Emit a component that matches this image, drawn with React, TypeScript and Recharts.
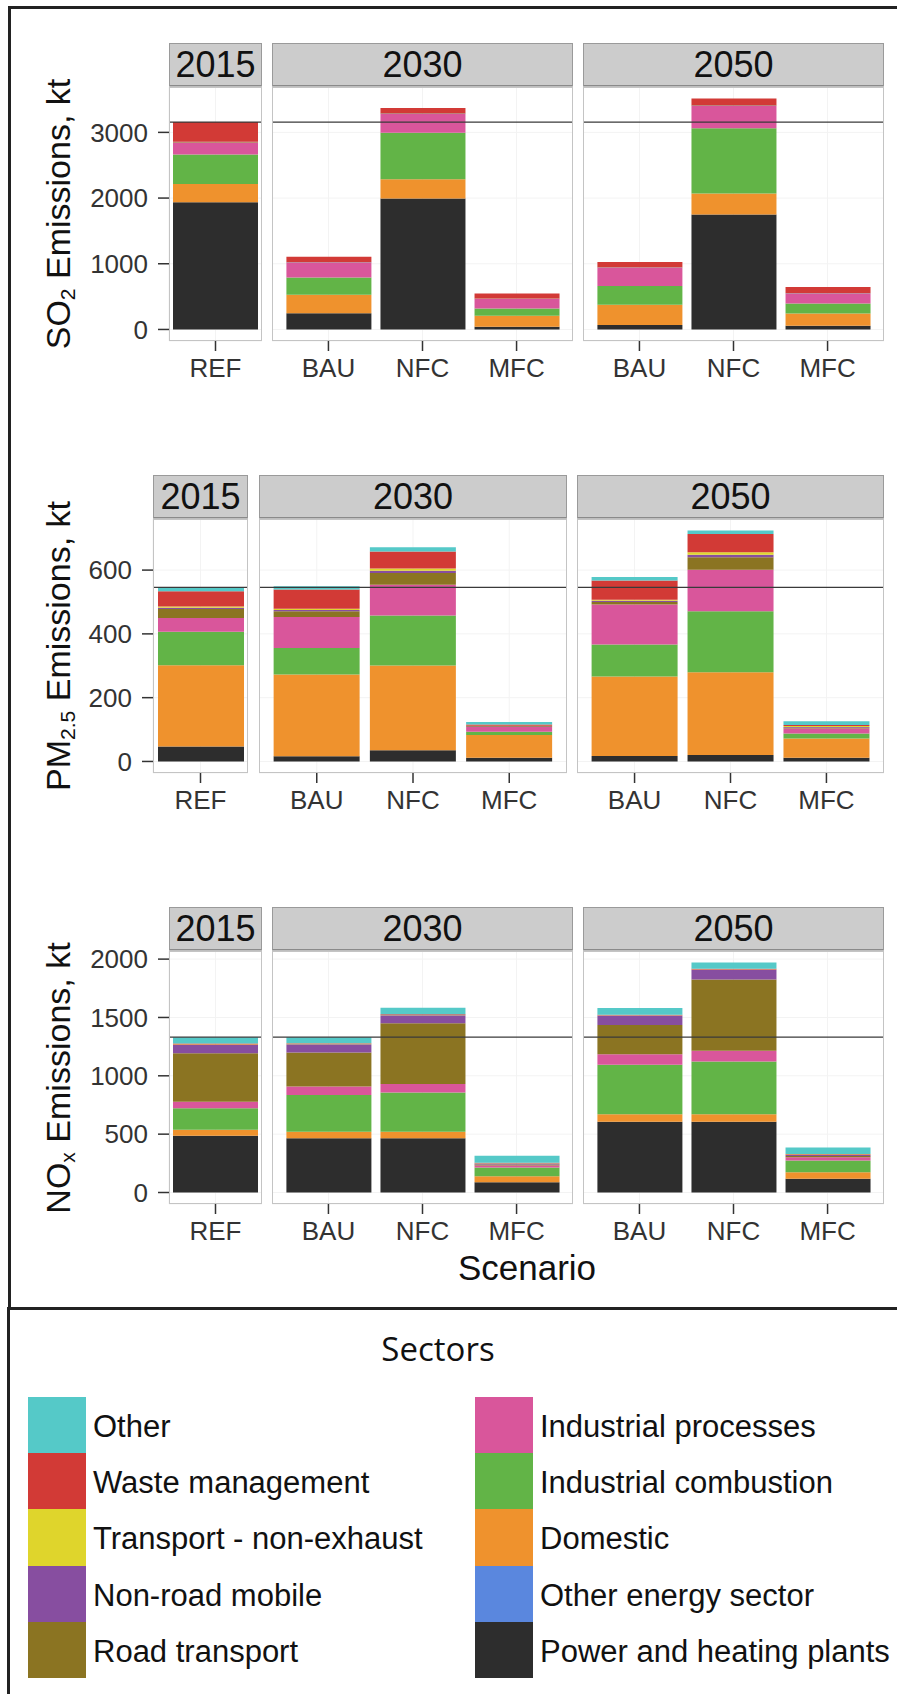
import { BarChart, Bar, XAxis, YAxis, CartesianGrid, ReferenceLine } from 'recharts'

// bar order: 2015 REF, 2030 BAU/NFC/MFC, 2050 BAU/NFC/MFC
const SCENARIOS = ['REF', 'BAU', 'NFC', 'MFC', 'BAU', 'NFC', 'MFC']
const YEARS = ['2015', '2030', '2050']
const YEAR_BARS = [[0], [1, 2, 3], [4, 5, 6]]

// stack order, bottom to top
const SECTORS = [
  'Power and heating plants',
  'Other energy sector',
  'Domestic',
  'Industrial combustion',
  'Industrial processes',
  'Road transport',
  'Non-road mobile',
  'Transport - non-exhaust',
  'Waste management',
  'Other',
]
const SECTOR_KEYS = ['power', 'otherEnergy', 'domestic', 'indComb', 'indProc', 'road', 'nonRoad', 'nonExhaust', 'waste', 'other']
const COLORS = ['#2d2d2d', '#5a87de', '#ef922d', '#62b447', '#d9569b', '#8b7422', '#874ea0', '#dfd52c', '#d23a36', '#55c9c8']

// SO2, kt
const so2Power = [1935, 245, 1995, 40, 66, 1751, 56]
const so2OtherEnergy = [0, 0, 0, 0, 0, 0, 0]
const so2Domestic = [280, 285, 290, 168, 310, 320, 188]
const so2IndComb = [450, 260, 710, 112, 284, 990, 152]
const so2IndProc = [180, 228, 285, 147, 279, 340, 152]
const so2Road = [8, 5, 8, 4, 5, 8, 4]
const so2NonRoad = [4, 3, 4, 2, 3, 4, 2]
const so2NonExhaust = [0, 0, 0, 0, 0, 0, 0]
const so2Waste = [300, 80, 80, 73, 81, 102, 94]
const so2Other = [0, 0, 0, 0, 0, 0, 0]

// PM2.5, kt
const pmPower = [47, 16, 35, 12, 17, 20, 12]
const pmOtherEnergy = [0, 0, 0, 0, 0, 0, 0]
const pmDomestic = [255, 257, 266, 71, 249, 260, 60]
const pmIndComb = [105, 83, 157, 10, 101, 191, 16]
const pmIndProc = [43, 97, 96, 15, 125, 130, 15]
const pmRoad = [28, 18, 37, 2, 8, 39, 3]
const pmNonRoad = [4, 4, 7, 1, 4, 8, 2]
const pmNonExhaust = [4, 4, 7, 1, 3, 8, 3]
const pmWaste = [48, 60, 53, 4, 60, 57, 3]
const pmOther = [12, 10, 14, 8, 11, 11, 12]

// NOx, kt
const noxPower = [487, 464, 464, 88, 607, 607, 117]
const noxOtherEnergy = [0, 0, 0, 0, 0, 0, 0]
const noxDomestic = [51, 57, 57, 52, 63, 63, 57]
const noxIndComb = [183, 314, 337, 74, 424, 453, 100]
const noxIndProc = [57, 74, 71, 17, 91, 91, 28]
const noxRoad = [416, 290, 521, 10, 251, 612, 10]
const noxNonRoad = [71, 72, 69, 8, 80, 83, 10]
const noxNonExhaust = [3, 3, 3, 2, 3, 3, 3]
const noxWaste = [8, 5, 5, 3, 5, 5, 5]
const noxOther = [55, 52, 57, 62, 57, 54, 55]

const SO2_TICKS = [0, 1000, 2000, 3000]
const PM_TICKS = [0, 200, 400, 600]
const NOX_TICKS = [0, 500, 1000, 1500, 2000]

const FONT = '"Liberation Sans", Arial, Helvetica, sans-serif'

type Row = Record<string, string | number>

function buildRows(series: number[][]): Row[] {
  return SCENARIOS.map((s, i) => {
    const row: Row = { scenario: s }
    SECTOR_KEYS.forEach((k, j) => {
      row[k] = series[j][i]
    })
    return row
  })
}

function totals(series: number[][]) {
  return SCENARIOS.map((_, i) => series.reduce((a, s) => a + s[i], 0))
}

interface PanelProps {
  data: Row[]
  left: number
  width: number
  top: number
  height: number
  domain: [number, number]
  ticks: number[]
  refTotal: number
  showY: boolean
  pad: number
  barSize: number
}

function Panel({ data, left, width, top, height, domain, ticks, refTotal, showY, pad, barSize }: PanelProps) {
  const yW = showY ? 110 : 0
  const mTop = 20
  return (
    <div style={{ position: 'absolute', left: left - yW, top: top - mTop }}>
      <BarChart
        width={width + yW}
        height={height + mTop + 50}
        data={data}
        margin={{ top: mTop, right: 0, bottom: 0, left: 0 }}
        barSize={barSize}
      >
        <CartesianGrid stroke="#f3f3f3" />
        <XAxis
          dataKey="scenario"
          height={50}
          interval={0}
          tickSize={10}
          tickMargin={8}
          axisLine={false}
          tickLine={{ stroke: '#333', strokeWidth: 1.5 }}
          tick={{ fill: '#333', fontSize: 26 }}
          padding={{ left: pad, right: pad }}
        />
        <YAxis
          hide={!showY}
          width={yW}
          domain={domain}
          ticks={ticks}
          allowDataOverflow
          tickSize={11}
          tickMargin={10}
          axisLine={false}
          tickLine={{ stroke: '#333', strokeWidth: 1.5 }}
          tick={{ fill: '#333', fontSize: 26 }}
        />
        {SECTOR_KEYS.map((k, i) => (
          <Bar key={k} dataKey={k} stackId="s" fill={COLORS[i]} isAnimationActive={false} />
        ))}
        <ReferenceLine y={refTotal} stroke="#3a3a3a" strokeWidth={1.2} />
      </BarChart>
    </div>
  )
}

interface FacetRowProps {
  series: number[][]
  ticks: number[]
  panelX: [number, number][]
  stripTop: number
  panelBottom: number
  title: React.ReactNode
  barSize: number
}

function FacetRow({ series, ticks, panelX, stripTop, panelBottom, title, barSize }: FacetRowProps) {
  const rows = buildRows(series)
  const tot = totals(series)
  const max = Math.max(...tot)
  const domain: [number, number] = [-0.05 * max, 1.05 * max]
  const panelTop = stripTop + 44
  const panelH = panelBottom - panelTop
  return (
    <>
      <div
        style={{
          position: 'absolute',
          left: 58,
          top: (panelTop + panelBottom) / 2,
          transform: 'translate(-50%, -50%) rotate(-90deg)',
          whiteSpace: 'nowrap',
          fontSize: 34,
          color: '#111',
        }}
      >
        {title}
      </div>
      {YEARS.map((y, p) => {
        const [x0, x1] = panelX[p]
        const w = x1 - x0
        // ggplot-like discrete expansion: 0.6 units each side of 3 bars
        const pad = p === 0 ? 0 : (0.1 * w) / 3.2
        return (
          <div key={y}>
            <div
              style={{
                position: 'absolute',
                left: x0,
                top: stripTop,
                width: w,
                height: 44,
                boxSizing: 'border-box',
                background: '#cccccc',
                border: '1px solid #9a9a9a',
                borderBottom: '2px solid #8a8a8a',
                textAlign: 'center',
                fontSize: 36,
                lineHeight: '42px',
                color: '#111',
              }}
            >
              {y}
            </div>
            <Panel
              data={YEAR_BARS[p].map((i) => rows[i])}
              left={x0}
              width={w}
              top={panelTop}
              height={panelH}
              domain={domain}
              ticks={ticks}
              refTotal={tot[0]}
              showY={p === 0}
              pad={pad}
              barSize={barSize}
            />
            <div
              style={{
                position: 'absolute',
                left: x0,
                top: panelTop,
                width: w,
                height: panelH,
                boxSizing: 'border-box',
                border: '1px solid #c4c4c4',
                pointerEvents: 'none',
              }}
            />
          </div>
        )
      })}
    </>
  )
}

const so2Series = [so2Power, so2OtherEnergy, so2Domestic, so2IndComb, so2IndProc, so2Road, so2NonRoad, so2NonExhaust, so2Waste, so2Other]
const pmSeries = [pmPower, pmOtherEnergy, pmDomestic, pmIndComb, pmIndProc, pmRoad, pmNonRoad, pmNonExhaust, pmWaste, pmOther]
const noxSeries = [noxPower, noxOtherEnergy, noxDomestic, noxIndComb, noxIndProc, noxRoad, noxNonRoad, noxNonExhaust, noxWaste, noxOther]

const sub: React.CSSProperties = { fontSize: '0.62em', verticalAlign: '-0.25em', lineHeight: 0 }

export default function App() {
  const legendOrder = SECTORS.map((s, i) => ({ name: s, color: COLORS[i] })).reverse()
  const cols = [legendOrder.slice(0, 5), legendOrder.slice(5)]
  return (
    <div
      style={{
        position: 'absolute',
        left: 0,
        top: 0,
        width: 897,
        height: 1694,
        overflow: 'hidden',
        background: '#fff',
        fontFamily: FONT,
      }}
    >
      <div
        style={{
          position: 'absolute',
          left: 8,
          top: 6,
          width: 900,
          height: 1304,
          boxSizing: 'border-box',
          border: '3px solid #222',
        }}
      />
      <div
        style={{
          position: 'absolute',
          left: 7,
          top: 1307,
          width: 900,
          height: 1387,
          boxSizing: 'border-box',
          border: '3px solid #222',
          borderBottomWidth: 2,
        }}
      />

      <FacetRow
        series={so2Series}
        ticks={SO2_TICKS}
        panelX={[[169, 262], [272, 573], [583, 884]]}
        stripTop={43}
        panelBottom={341}
        barSize={85}
        title={<span>SO<span style={sub}>2</span> Emissions, kt</span>}
      />
      <FacetRow
        series={pmSeries}
        ticks={PM_TICKS}
        panelX={[[153, 248], [259, 567], [577, 884]]}
        stripTop={475}
        panelBottom={773}
        barSize={86}
        title={<span>PM<span style={sub}>2.5</span> Emissions, kt</span>}
      />
      <FacetRow
        series={noxSeries}
        ticks={NOX_TICKS}
        panelX={[[169, 262], [272, 573], [583, 884]]}
        stripTop={907}
        panelBottom={1204}
        barSize={85}
        title={<span>NO<span style={sub}>x</span> Emissions, kt</span>}
      />

      <div
        style={{
          position: 'absolute',
          left: 527,
          top: 1268,
          transform: 'translate(-50%, -50%)',
          fontSize: 35,
          color: '#111',
          whiteSpace: 'nowrap',
        }}
      >
        Scenario
      </div>

      <div
        style={{
          position: 'absolute',
          left: 438,
          top: 1348,
          transform: 'translate(-50%, -50%)',
          fontFamily: '"Open Sans", sans-serif',
          fontSize: 33,
          color: '#111',
          whiteSpace: 'nowrap',
        }}
      >
        Sectors
      </div>
      {cols.map((col, c) => (
        <div key={c} style={{ position: 'absolute', left: c === 0 ? 28 : 475, top: 1397 }}>
          {col.map((it) => (
            <div key={it.name} style={{ display: 'flex', alignItems: 'center', height: 56.2 }}>
              <div style={{ width: 58, height: 56.2, background: it.color }} />
              <div style={{ marginLeft: 7, fontSize: 31, color: '#111', whiteSpace: 'nowrap', paddingTop: 4 }}>
                {it.name}
              </div>
            </div>
          ))}
        </div>
      ))}
    </div>
  )
}
